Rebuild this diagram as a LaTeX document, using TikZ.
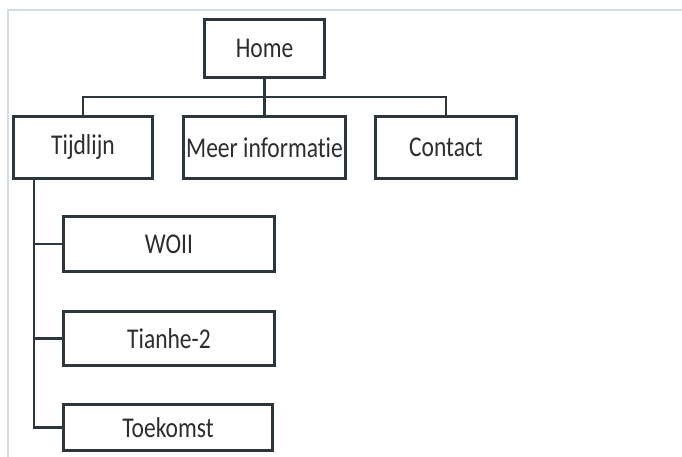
\documentclass[tikz,border=0pt]{standalone}
\usepackage{fontspec}
\setmainfont{Carlito}[Ligatures=NoCommon]
\usetikzlibrary{calc}
\definecolor{frame}{RGB}{43,55,60}
\definecolor{ink}{RGB}{45,45,45}
\definecolor{scan}{RGB}{214,220,228}
\newcommand{\tall}[1]{\scalebox{1}[1.22]{#1}}
\tikzset{
  page/.style={x=1pt,y=-1pt},
  box/.style={draw=frame,line width=3pt,fill=white,text=ink,inner sep=0pt,
    font=\fontsize{23.5}{28}\selectfont},
  link/.style={draw=frame,line width=2.6pt},
}
\begin{document}
\begin{tikzpicture}[page]
  \useasboundingbox (0,0) rectangle (682,457);
  % faint border from the scan
  \draw[scan,line width=1.5pt] (8,457) -- (8,10) -- (682,10);

  \node[box,minimum width=120,minimum height=58] (home) at (264.5,48.5) {\tall{Home}};
  \node[box,minimum width=139,minimum height=62] (tijd) at (83,147.5) {\tall{Tijdlijn}};
  \node[box,minimum width=162,minimum height=62] (meer) at (264.5,147.5) {\tall{Meer informatie}};
  \node[box,minimum width=141,minimum height=62] (contact) at (446,147.5) {\tall{Contact}};

  \node[box,minimum width=211,minimum height=55] (woii) at (169,244) {\tall{WOII}};
  \node[box,minimum width=211,minimum height=54] (tianhe) at (169,338.5) {\tall{Tianhe-2}};
  \node[box,minimum width=209,minimum height=46] (toek) at (168,427.5) {\tall{Toekomst}};

  % top level
  \coordinate (bar) at (264.5,97);
  \draw[link] (home.south) -- (meer.north);
  \draw[link] (tijd.north) |- (bar) -| (contact.north);

  % timeline branch
  \coordinate (spine) at ($(tijd.south west)+(22,0)$);
  \draw[link] (spine) |- (woii.west);
  \draw[link] (spine) |- (tianhe.west);
  \draw[link] (spine) |- (toek.west);
\end{tikzpicture}
\end{document}
